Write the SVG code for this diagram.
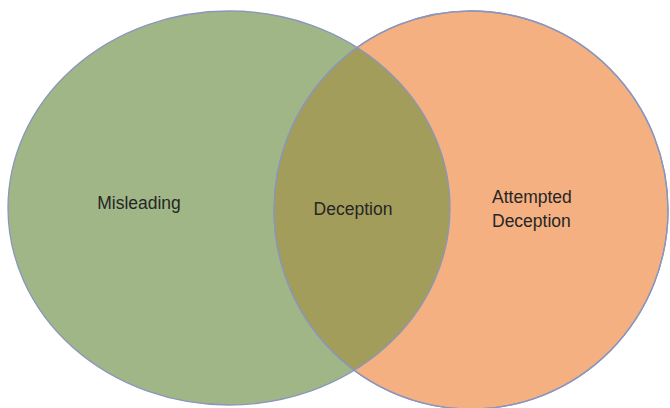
<svg xmlns="http://www.w3.org/2000/svg" width="670" height="408" viewBox="0 0 670 408">
  <style>
    .set { stroke: #8A96BC; stroke-width: 1.3; }
    .label { font-family: "Liberation Sans", Arial, sans-serif; font-size: 17.5px; fill: #262626; }
  </style>
  <defs>
    <clipPath id="clip-right">
      <ellipse cx="471" cy="210" rx="197" ry="199"/>
    </clipPath>
  </defs>
  <rect width="670" height="408" fill="#ffffff"/>
  <g id="misleading">
    <ellipse class="set" cx="229" cy="208" rx="221" ry="197" fill="#A0B687"/>
  </g>
  <g id="attempted-deception">
    <ellipse class="set" cx="471" cy="210" rx="197" ry="199" fill="#F4B081"/>
  </g>
  <g id="deception">
    <ellipse cx="229" cy="208" rx="221" ry="197" fill="#A39D5B" clip-path="url(#clip-right)"/>
    <ellipse cx="229" cy="208" rx="221" ry="197" fill="none" class="set" clip-path="url(#clip-right)"/>
    <ellipse cx="471" cy="210" rx="197" ry="199" fill="none" class="set"/>
  </g>
  <g id="labels">
    <text class="label" x="139" y="209" text-anchor="middle">Misleading</text>
    <text class="label" x="353" y="215" text-anchor="middle">Deception</text>
    <text class="label" x="492" y="203">Attempted</text>
    <text class="label" x="492" y="227">Deception</text>
  </g>
</svg>
